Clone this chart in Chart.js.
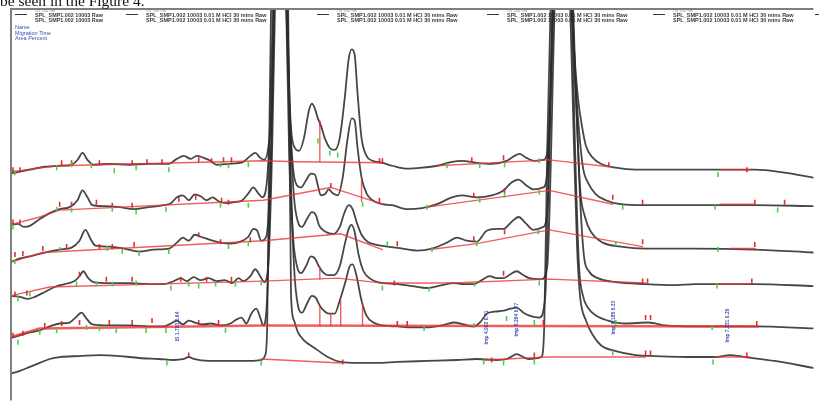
<!DOCTYPE html>
<html lang="en">
<head>
<meta charset="UTF-8">
<title>Electropherogram overlay</title>
<script src="https://cdn.jsdelivr.net/npm/chart.js"></script>
<style>
  html, body { margin: 0; padding: 0; background: #fff; }
  #wrap { width: 819px; height: 406px; overflow: hidden; }
</style>
</head>
<body>
<div id="wrap"><canvas id="ep" width="819" height="406"></canvas></div>
<script>
// [migration time (min), signal] for each run, stacked top to bottom
var run1 = [[0.10,230],[0.20,232],[0.30,234],[0.45,237],[0.60,238],[0.72,239],[0.78,244],[0.83,251],[0.88,244],[0.94,239],[1.10,240],[1.30,239],[1.50,240],[1.70,240],[1.78,245],[1.85,248],[1.92,245],[1.98,248],[2.05,246],[2.12,243],[2.18,239],[2.30,240],[2.45,242],[2.52,248],[2.57,251],[2.62,246],[2.66,244],[2.70,256],[2.74,306],[2.77,456],[2.82,526],[2.87,456],[2.90,346],[2.93,276],[2.97,256],[3.01,253],[3.06,266],[3.11,294],[3.14,301],[3.17,296],[3.20,286],[3.23,279],[3.27,266],[3.32,256],[3.37,254],[3.42,266],[3.47,306],[3.51,346],[3.54,356],[3.57,351],[3.60,311],[3.64,266],[3.69,248],[3.75,243],[3.85,241],[3.95,238],[4.10,235],[4.25,236],[4.40,238],[4.55,242],[4.65,243],[4.80,241],[4.95,240],[5.10,243],[5.18,248],[5.23,250],[5.30,246],[5.38,243],[5.47,244],[5.51,251],[5.54,306],[5.57,426],[5.65,506],[5.74,426],[5.78,356],[5.82,306],[5.86,278],[5.90,258],[5.97,246],[6.05,240],[6.20,236],[6.40,234],[6.80,234],[7.20,234],[7.60,234],[7.90,231],[8.19,226]];
var run2 = [[0.10,178],[0.18,179],[0.24,176],[0.30,177],[0.40,184],[0.50,190],[0.60,194],[0.70,196],[0.78,203],[0.83,213],[0.88,206],[0.93,198],[1.05,197],[1.20,196],[1.35,194],[1.50,196],[1.65,198],[1.72,200],[1.78,206],[1.84,208],[1.90,203],[1.96,209],[2.02,207],[2.08,203],[2.14,206],[2.20,202],[2.28,200],[2.36,201],[2.44,203],[2.50,210],[2.55,216],[2.60,210],[2.64,206],[2.68,216],[2.72,286],[2.75,406],[2.82,526],[2.88,406],[2.91,306],[2.95,236],[2.99,218],[3.03,216],[3.08,223],[3.13,230],[3.17,229],[3.20,218],[3.23,208],[3.27,209],[3.31,214],[3.35,210],[3.40,208],[3.45,226],[3.50,266],[3.54,286],[3.57,284],[3.60,256],[3.64,226],[3.69,210],[3.75,203],[3.85,199],[3.95,198],[4.10,194],[4.25,195],[4.40,199],[4.55,206],[4.65,208],[4.80,206],[4.95,208],[5.07,213],[5.15,221],[5.22,224],[5.30,218],[5.37,214],[5.47,216],[5.51,231],[5.54,306],[5.58,426],[5.66,506],[5.74,426],[5.78,346],[5.82,286],[5.87,236],[5.92,221],[6.00,209],[6.10,203],[6.25,199],[6.50,198],[7.00,198],[7.60,198],[8.19,197]];
var run3 = [[0.10,140],[0.20,144],[0.30,146],[0.45,150],[0.60,153],[0.72,155],[0.80,162],[0.86,173],[0.91,164],[0.96,157],[1.10,156],[1.25,154],[1.40,151],[1.55,153],[1.70,154],[1.78,160],[1.84,165],[1.90,162],[1.96,168],[2.02,166],[2.08,164],[2.14,162],[2.22,160],[2.32,159],[2.42,161],[2.50,166],[2.55,174],[2.59,172],[2.63,162],[2.68,166],[2.73,256],[2.76,406],[2.83,526],[2.89,406],[2.92,286],[2.96,206],[3.00,181],[3.04,176],[3.09,184],[3.14,191],[3.18,188],[3.21,178],[3.25,173],[3.30,170],[3.36,169],[3.42,176],[3.47,191],[3.51,198],[3.55,194],[3.59,181],[3.64,168],[3.70,161],[3.78,158],[3.90,156],[4.05,154],[4.20,152],[4.35,154],[4.50,160],[4.60,165],[4.70,162],[4.80,161],[4.90,172],[5.00,174],[5.07,174],[5.15,181],[5.22,186],[5.30,179],[5.37,173],[5.47,176],[5.51,191],[5.54,286],[5.58,426],[5.66,506],[5.75,426],[5.80,306],[5.84,216],[5.89,186],[5.95,171],[6.07,160],[6.25,156],[6.50,154],[7.00,154],[7.60,153],[8.19,150]];
var run4 = [[0.10,106],[0.20,105],[0.28,103],[0.35,105],[0.45,110],[0.55,115],[0.65,118],[0.75,121],[0.80,126],[0.84,131],[0.88,125],[0.94,120],[1.10,119],[1.30,119],[1.50,118],[1.65,118],[1.75,121],[1.82,124],[1.88,121],[1.95,125],[2.02,122],[2.10,124],[2.18,121],[2.26,122],[2.34,119],[2.40,124],[2.45,121],[2.52,126],[2.57,133],[2.62,126],[2.66,120],[2.70,136],[2.74,256],[2.77,406],[2.83,526],[2.88,406],[2.91,256],[2.95,166],[2.99,136],[3.03,129],[3.08,136],[3.13,146],[3.17,144],[3.21,136],[3.25,130],[3.30,127],[3.36,127],[3.42,136],[3.47,158],[3.51,174],[3.54,178],[3.57,171],[3.61,148],[3.66,131],[3.72,124],[3.80,120],[4.00,118],[4.15,116],[4.30,114],[4.45,117],[4.57,119],[4.67,118],[4.77,118],[4.85,122],[4.93,126],[5.00,124],[5.07,124],[5.14,128],[5.20,131],[5.27,127],[5.33,124],[5.45,123],[5.51,136],[5.55,256],[5.59,426],[5.67,506],[5.76,426],[5.80,306],[5.84,206],[5.88,146],[5.93,131],[6.02,124],[6.20,120],[6.50,118],[6.80,117],[7.00,118],[7.60,118],[8.19,116]];
var run5 = [[0.10,63],[0.20,66],[0.30,69],[0.40,71],[0.50,75],[0.60,78],[0.70,79],[0.76,84],[0.82,89],[0.87,83],[0.93,77],[1.10,76],[1.30,76],[1.50,75],[1.65,75],[1.72,78],[1.78,81],[1.84,77],[1.90,81],[1.96,79],[2.04,77],[2.12,78],[2.22,76],[2.32,78],[2.38,82],[2.43,84],[2.48,78],[2.53,88],[2.58,93],[2.62,84],[2.65,76],[2.69,106],[2.73,256],[2.76,406],[2.83,526],[2.89,406],[2.92,256],[2.96,136],[3.00,96],[3.04,89],[3.09,98],[3.14,106],[3.18,104],[3.22,96],[3.26,91],[3.31,88],[3.37,88],[3.42,101],[3.48,121],[3.52,136],[3.55,138],[3.59,126],[3.64,101],[3.69,86],[3.76,79],[3.85,76],[4.00,75],[4.15,74],[4.30,74],[4.45,76],[4.57,79],[4.67,77],[4.77,75],[4.84,80],[4.90,88],[4.98,90],[5.07,91],[5.14,93],[5.20,94],[5.27,89],[5.33,86],[5.43,84],[5.49,106],[5.53,256],[5.57,426],[5.65,506],[5.75,426],[5.79,256],[5.83,136],[5.87,106],[5.92,94],[6.00,86],[6.12,81],[6.30,78],[6.53,79],[6.70,76],[7.00,75],[7.60,75],[8.19,73]];
var run6 = [[0.10,27],[0.20,30],[0.30,34],[0.40,38],[0.50,42],[0.60,44],[0.80,45],[1.00,46],[1.20,45],[1.40,43],[1.60,42],[1.75,41],[1.85,42],[1.90,44],[1.95,42],[2.10,40],[2.40,40],[2.55,40],[2.63,41],[2.67,46],[2.69,76],[2.71,256],[2.73,406],[2.81,526],[2.90,406],[2.93,106],[2.96,81],[3.00,69],[3.06,61],[3.17,53],[3.30,44],[3.43,39],[3.60,38],[3.80,38],[4.00,39],[4.30,40],[4.60,41],[4.80,42],[5.00,41],[5.10,42],[5.16,45],[5.20,47],[5.25,45],[5.32,42],[5.45,44],[5.48,76],[5.51,256],[5.55,426],[5.63,506],[5.73,426],[5.78,256],[5.81,156],[5.84,106],[5.90,81],[5.97,66],[6.05,56],[6.20,50],[6.40,46],[6.60,45],[7.00,44],[7.20,44],[7.35,46],[7.50,44],[7.80,40],[8.19,33]];

// integration baselines, one list of segments per run
var base1 = [[[0.10,232],[0.20,233],[0.40,236],[0.60,238],[2.65,243],[3.00,242],[3.85,241]], [[4.40,238],[5.53,244],[6.13,237]], [[7.27,234],[7.55,234]]];
var base2 = [[[0.10,178],[0.40,186],[0.60,193],[2.65,203],[3.33,216],[3.85,199]], [[4.30,196],[5.53,213],[6.17,199]], [[7.25,199],[7.60,199]]];
var base3 = [[[0.10,140],[0.43,150],[2.65,162],[3.43,169],[3.85,153]], [[4.33,153],[4.80,159],[5.53,173],[6.47,156]], [[7.35,154],[7.60,154]]];
var base4 = [[[0.10,106],[0.50,115],[2.65,121],[3.40,124],[3.85,119],[4.55,119],[5.53,123],[6.50,119]], [[7.20,118],[7.55,118]]];
var base5 = [[[0.10,64],[0.40,73],[2.65,76],[7.63,75]]];
var base6 = [[[2.63,42],[3.43,38]], [[4.87,41],[5.53,44],[6.50,44]], [[7.20,44],[7.55,44]]];

// drop lines from peak valleys down to the baseline
var drops = [[[3.22,281],[3.22,242]], [[3.64,224],[3.64,202]], [[3.22,135],[3.22,123]], [[3.22,96],[3.22,76]], [[3.33,88],[3.33,76]], [[3.43,101],[3.43,76]], [[3.65,99],[3.65,76]]];

// peak start/end marks
var green1 = [[0.15,231],[0.57,236],[0.72,239],[0.92,238],[1.15,233],[1.37,236],[1.70,234],[2.22,239],[2.30,238],[2.50,239],[3.20,263],[3.32,251],[3.40,249],[4.50,238],[4.83,238],[5.08,239],[5.43,243],[7.23,229]];
var red1 = [[0.13,234],[0.20,234],[0.62,241],[0.72,241],[1.00,241],[1.33,241],[1.48,242],[1.63,242],[2.00,244],[2.13,243],[2.25,244],[2.33,244],[3.22,281],[3.82,243],[3.85,243],[4.75,244],[5.07,246],[6.13,239],[7.52,234]];
var green2 = [[0.13,176],[0.57,194],[0.72,193],[1.13,194],[1.37,191],[1.67,194],[2.22,198],[2.50,198],[3.65,199],[4.30,196],[4.83,203],[5.08,208],[5.43,211],[6.27,196],[7.20,196],[7.83,193]];
var red2 = [[0.13,181],[0.20,181],[0.60,199],[0.72,199],[0.97,201],[1.13,198],[1.33,198],[1.80,204],[1.97,206],[2.23,203],[2.30,201],[3.33,218],[3.82,203],[4.77,208],[5.08,213],[6.17,206],[6.47,201],[7.60,201],[7.90,201]];
var green3 = [[0.15,141],[0.60,153],[1.08,154],[1.23,151],[1.40,149],[1.70,151],[2.30,156],[2.50,159],[3.90,159],[4.35,153],[4.80,159],[5.42,171],[6.20,159],[7.23,153]];
var red3 = [[0.15,148],[0.23,149],[0.43,154],[0.67,156],[1.00,156],[1.13,156],[1.35,158],[2.00,168],[2.22,161],[2.52,163],[4.00,159],[4.77,164],[5.08,171],[6.47,161],[7.60,158]];
var green4 = [[0.18,103],[0.30,108],[0.77,118],[0.97,118],[1.13,118],[1.37,119],[1.72,114],[1.90,118],[2.00,116],[2.17,118],[2.37,118],[2.63,119],[3.85,114],[4.32,113],[4.78,118],[5.43,119],[7.22,116]];
var red4 = [[0.15,108],[0.27,109],[0.80,128],[1.07,123],[1.33,123],[1.82,123],[2.08,123],[2.33,123],[3.97,119],[5.07,129],[6.47,121],[6.52,121],[7.57,121]];
var green5 = [[0.18,59],[0.40,69],[0.57,71],[0.87,74],[1.00,73],[1.17,71],[1.47,71],[1.67,71],[2.27,71],[4.27,73],[4.77,76],[5.10,83],[5.38,79],[6.20,79],[7.17,74]];
var red5 = [[0.13,66],[0.23,68],[0.45,76],[0.62,78],[0.80,79],[1.10,79],[1.33,79],[1.53,81],[2.00,79],[2.20,79],[4.00,78],[4.10,78],[5.47,79],[6.50,84],[6.55,84],[7.62,78]];
var green6 = [[1.68,38],[2.63,38],[4.87,39],[5.07,38],[5.38,39],[6.17,48],[7.18,39]];
var red6 = [[1.90,46],[3.45,39],[4.95,41],[5.38,46],[6.50,48],[6.55,48],[7.52,46]];

// peak annotations (name, migration time, area %)
var labelTimes = [1.79, 4.90, 5.20, 6.18, 7.33];
var labelSignals = [75, 74, 82, 84, 76];
var labelTexts = ['IS 1.793 0.64', 'Imp 4.902 0.41', 'Imp 5.204 0.77', 'Imp 6.185 0.33', 'Imp 7.331 0.29'];

// legend across the top of the plot
var legendX = [15, 126, 317, 487, 653, 815];
var legendNames = ['SPL_SMP1.002 10003 Raw', 'SPL_SMP1.002 10003 0.01 M HCl 30 mins Raw', 'SPL_SMP1.002 10003 0.01 M HCl 30 mins Raw', 'SPL_SMP1.002 10003 0.01 M HCl 30 mins Raw', 'SPL_SMP1.002 10003 0.01 M HCl 30 mins Raw', 'SPL_SMP1.002 10003 0.01 M HCl 30 mins Raw'];
var legendWidths = [68, 129, 133, 137, 135, 60];
var tableHeader = ['Name', 'Migration Time', 'Area Percent'];

function pts(arr) {
    return arr.map(function (p) { return { x: p[0], y: p[1] }; });
}

var runs = [run1, run2, run3, run4, run5, run6];
var bases = [base1, base2, base3, base4, base5, base6];
var greens = [green1, green2, green3, green4, green5, green6];
var reds = [red1, red2, red3, red4, red5, red6];

var datasets = [];

runs.forEach(function (r) {
    datasets.push({
        data: pts(r),
        borderColor: 'rgba(45,45,45,0.88)',
        borderWidth: 1.8,
        pointRadius: 0,
        cubicInterpolationMode: 'monotone',
        order: 3
    });
});

bases.forEach(function (segs, i) {
    segs.forEach(function (seg) {
        datasets.push({
            data: pts(seg),
            borderColor: 'rgba(236,50,50,0.78)',
            borderWidth: i === 4 ? 2.4 : 1.4,
            pointRadius: 0,
            tension: 0,
            order: 2
        });
    });
});

drops.forEach(function (seg) {
    datasets.push({
        data: pts(seg),
        borderColor: 'rgba(236,50,50,0.8)',
        borderWidth: 1.4,
        pointRadius: 0,
        order: 2
    });
});

function ticks(list, colour) {
    list.forEach(function (arr) {
        datasets.push({
            data: pts(arr),
            showLine: false,
            pointStyle: 'line',
            pointRotation: 90,
            pointRadius: 2.5,
            pointBorderColor: colour,
            pointBorderWidth: 1.6,
            order: 1
        });
    });
}
ticks(greens, 'rgba(70,205,70,0.95)');
ticks(reds, 'rgba(225,35,35,0.95)');

var overlay = {
    id: 'overlay',
    beforeDatasetsDraw: function (chart) {
        var ctx = chart.ctx;
        ctx.save();
        ctx.textBaseline = 'alphabetic';
        legendX.forEach(function (x, i) {
            ctx.strokeStyle = '#3a3a3a';
            ctx.lineWidth = 1;
            ctx.beginPath();
            ctx.moveTo(x, 14.5);
            ctx.lineTo(x + 12, 14.5);
            ctx.stroke();
            ctx.fillStyle = '#9a9a9a';
            ctx.font = '4px "Liberation Sans", Arial, sans-serif';
            ctx.fillText('UV 200 nm', x + 20, 11.5);
            ctx.fillStyle = '#3a3a3a';
            ctx.font = 'bold 5.5px "Liberation Sans", Arial, sans-serif';
            ctx.fillText(legendNames[i], x + 20, 16.5, legendWidths[i]);
            ctx.fillText(legendNames[i], x + 20, 21.5, legendWidths[i]);
        });
        ctx.fillStyle = '#3550b8';
        ctx.font = '5.5px "Liberation Sans", Arial, sans-serif';
        tableHeader.forEach(function (t, i) {
            ctx.fillText(t, 15, 29 + i * 5.5);
        });
        ctx.restore();
    },
    afterDatasetsDraw: function (chart) {
        var ctx = chart.ctx;
        var xs = chart.scales.x, ys = chart.scales.y;
        var area = chart.chartArea;
        ctx.save();
        // vertical peak labels
        ctx.font = 'bold 5px "Liberation Sans", Arial, sans-serif';
        ctx.fillStyle = 'rgba(45,60,170,0.9)';
        ctx.textAlign = 'center';
        ctx.textBaseline = 'middle';
        labelTimes.forEach(function (t, i) {
            ctx.save();
            ctx.translate(xs.getPixelForValue(t), ys.getPixelForValue(labelSignals[i]));
            ctx.rotate(-Math.PI / 2);
            ctx.fillText(labelTexts[i], 0, 0);
            ctx.restore();
        });
        // plot frame (left and top)
        ctx.strokeStyle = '#7f7f7f';
        ctx.lineWidth = 2;
        ctx.beginPath();
        ctx.moveTo(area.left + 1, area.bottom);
        ctx.lineTo(area.left + 1, area.top + 1);
        ctx.lineTo(area.right, area.top + 1);
        ctx.stroke();
        // running text of the page above the figure
        ctx.fillStyle = '#111';
        ctx.textAlign = 'left';
        ctx.textBaseline = 'alphabetic';
        ctx.font = '15.5px "Liberation Serif", "Times New Roman", serif';
        ctx.fillText('be seen in the Figure 4.', 0, 6);
        ctx.restore();
    }
};

new Chart(document.getElementById('ep').getContext('2d'), {
    type: 'line',
    data: { datasets: datasets },
    options: {
        responsive: false,
        animation: false,
        devicePixelRatio: 1,
        layout: { padding: { left: 10, top: 8, right: 0, bottom: 0 } },
        plugins: { legend: { display: false }, tooltip: { enabled: false } },
        scales: {
            x: { type: 'linear', min: 0.10, max: 8.19, display: false },
            y: { type: 'linear', min: 0, max: 398, display: false }
        },
        elements: { line: { borderJoinStyle: 'round', borderCapStyle: 'round' } }
    },
    plugins: [overlay]
});
</script>
</body>
</html>
